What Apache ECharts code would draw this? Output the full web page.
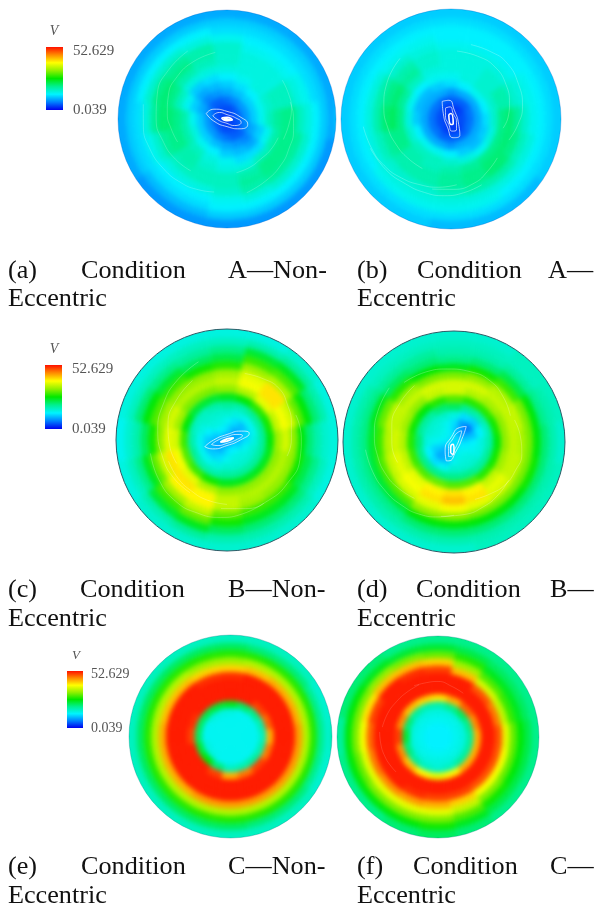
<!DOCTYPE html>
<html><head><meta charset="utf-8">
<script src="https://cdn.jsdelivr.net/npm/echarts@6/dist/echarts.min.js"></script>
<style>html,body{margin:0;background:#fff}#f,#o{position:absolute;left:0;top:0;width:596px;height:908px}</style>
</head><body><div id="f"></div><div id="o"></div>
<script>
// Speed V per disc: rows = rings from centre to rim, columns = 16 sectors counter-clockwise from east
var discA=[[3,3,3,3,3,3,3,3,3,3,3,3,3,3,3,3],[5,5,5,4,4,4,4,4,5,5,5,4,4,4,4,4],[8,8,8,7,6,5,5,7,8,8,8,7,6,5,5,7],[11,11,11,10,9,8,7,9,11,11,11,10,9,8,7,9],[14,14,13,12,11,10,9,11,14,15,14,13,11,10,9,11],[17,16,15,14,13,12,11,14,18,18,17,15,14,12,12,14],[19,17,15,15,15,15,15,17,20,20,18,16,15,15,17,18],[20,17,15,15,16,17,18,20,21,20,18,17,17,18,20,20],[20,17,15,15,16,18,20,21,21,19,17,17,17,19,20,20],[17,15,14,14,16,18,19,20,19,16,15,15,16,18,19,19],[15,14,13,13,14,15,16,16,15,14,13,13,14,15,16,16],[13,12,12,12,12,13,13,13,12,12,12,12,13,13,13,13],[11,11,11,11,11,11,11,11,11,11,10,10,11,11,11,11],[9,9,9,9,9,9,9,9,9,9,8,8,8,8,8,8]];
var discB=[[3,3,3,3,3,3,3,3,3,3,3,3,3,3,3,3],[4,4,3,3,3,3,4,4,4,4,4,3,3,3,3,4],[6,6,5,5,5,5,6,6,6,6,6,5,5,5,5,6],[9,9,9,9,8,9,9,9,9,9,9,9,8,9,9,9],[12,13,14,13,12,11,10,10,11,13,14,14,13,11,10,11],[16,16,16,15,14,14,13,14,15,16,17,17,16,15,14,15],[20,18,16,15,15,15,17,19,20,20,18,17,18,19,20,20],[21,18,16,15,15,16,19,21,22,20,18,18,19,20,21,21],[19,16,15,15,15,16,18,20,21,19,18,18,19,20,21,20],[16,15,14,14,14,15,16,18,18,17,16,16,17,18,18,17],[14,14,13,13,13,14,14,15,15,15,15,15,15,15,15,15],[13,13,13,13,13,13,13,13,13,13,14,14,14,14,13,13],[12,12,12,12,12,12,12,12,12,12,12,12,12,12,12,12],[11,11,11,11,11,11,11,11,11,11,11,11,10,10,10,11]];
var discC=[[9,9,9,9,9,9,9,9,9,9,9,9,9,9,9,9],[10,9,9,10,12,13,13,11,10,9,9,10,12,13,13,11],[12,11,10,12,14,15,15,13,11,10,11,12,14,15,15,14],[15,14,14,15,16,16,16,15,14,14,14,15,16,16,16,16],[19,19,19,18,19,18,17,17,18,19,18,18,19,19,19,19],[26,27,28,26,25,24,24,26,29,30,29,27,25,25,25,25],[34,36,38,35,33,32,32,34,37,39,38,35,33,33,33,33],[37,39,41,39,36,35,35,37,38,41,41,40,36,35,35,35],[33,37,41,38,34,33,33,34,33,37,40,40,36,34,33,33],[26,31,35,34,28,27,29,30,27,31,34,36,31,29,29,27],[21,26,30,29,23,22,24,26,22,25,29,31,27,25,25,23],[18,21,25,24,20,19,20,21,18,20,24,25,22,21,21,20],[16,18,19,18,17,17,17,17,16,17,18,19,18,18,18,17],[15,15,16,15,15,15,15,15,14,15,16,16,16,16,16,15]];
var discD=[[12,12,12,12,12,12,12,12,12,12,12,12,12,12,12,12],[12,10,8,9,11,13,14,14,13,11,9,9,12,14,14,13],[13,10,6,8,12,14,15,15,14,11,9,10,14,15,15,14],[15,13,11,12,15,16,16,16,15,13,12,14,16,16,16,15],[18,17,18,19,22,21,19,19,21,20,20,20,20,20,19,19],[26,27,28,28,30,28,26,27,28,29,30,31,30,30,28,27],[33,33,34,35,37,36,33,34,35,36,38,40,41,40,36,34],[36,36,36,37,37,37,36,36,37,38,39,41,43,41,38,36],[35,36,35,33,32,32,34,36,35,36,37,38,39,38,37,36],[32,32,29,27,25,26,28,31,29,30,30,33,33,32,32,32],[26,26,23,21,20,21,22,25,24,24,24,26,26,26,26,27],[21,20,19,18,18,19,19,20,20,20,20,21,21,21,21,21],[18,18,17,17,17,17,17,18,18,18,18,18,18,18,18,18],[16,17,17,16,16,16,16,16,16,16,16,16,16,17,17,17]];
var discE=[[14,14,14,14,14,14,14,14,14,14,14,14,14,14,14,14],[14,14,14,14,14,14,14,14,14,14,14,14,14,14,14,14],[14,14,14,14,14,14,14,14,14,14,14,14,14,14,14,14],[14,14,14,14,15,15,15,14,14,15,15,14,14,14,14,14],[17,18,20,22,25,24,23,22,22,24,26,21,17,18,19,18],[44,48,50,52,52,52,52,51,50,52,52,50,44,47,50,47],[52,52,52,52,52,52,52,52,52,52,52,52,52,52,52,52],[52,52,52,52,52,52,52,52,52,52,52,52,52,52,52,52],[52,52,52,52,51,51,52,52,52,52,52,52,52,52,52,52],[45,44,44,43,42,42,43,43,44,44,44,45,45,45,45,45],[35,35,35,35,34,34,35,35,35,35,35,35,35,35,35,35],[28,28,28,28,28,28,28,28,28,28,28,28,28,28,28,28],[20,20,21,21,22,22,22,22,22,22,22,22,22,21,21,20],[16,16,17,17,17,17,17,17,17,17,17,17,17,17,17,16]];
var discF=[[13,13,13,13,13,13,13,13,13,13,13,13,13,13,13,13],[13,13,13,13,13,13,13,13,13,13,13,13,13,13,13,13],[14,14,14,14,14,14,14,14,14,14,14,14,14,14,14,14],[15,15,15,15,15,15,15,15,15,15,15,15,15,15,15,15],[19,20,22,20,18,18,19,21,24,21,19,17,16,17,19,19],[44,46,48,44,41,42,43,46,50,46,43,40,38,40,44,44],[52,52,52,52,52,52,52,52,52,52,52,52,52,52,52,52],[52,52,52,52,52,52,52,52,52,52,52,52,52,52,52,52],[49,47,49,52,52,52,52,52,52,52,52,51,50,50,49,49],[38,36,37,43,50,51,52,50,48,47,46,45,44,42,39,39],[31,29,30,34,42,43,43,41,39,38,38,38,38,36,32,31],[26,25,25,28,31,32,33,32,32,31,32,32,32,30,27,26],[23,22,22,23,24,24,25,26,26,26,26,26,27,25,23,23],[20,20,20,20,20,20,21,21,19,20,20,21,22,21,20,20]];
var vMin=0.039,vMax=52.629;
var rampColors=['#0000ee','#0080ff','#00f4ff','#00f090','#00e800','#90f000','#ffff00','#ff8c00','#ff1000'];
var captionRows=[
 [['(a)',8],['Condition',81],['A—Non-',228]],[['Eccentric',8]],
 [['(b)',357],['Condition',417],['A—',548]],[['Eccentric',357]],
 [['(c)',8],['Condition',80],['B—Non-',228]],[['Eccentric',8]],
 [['(d)',357],['Condition',416],['B—',550]],[['Eccentric',357]],
 [['(e)',8],['Condition',81],['C—Non-',228]],[['Eccentric',8]],
 [['(f)',357],['Condition',413],['C—',550]],[['Eccentric',357]]];
var captionBase=[277,305,277,305,596,625,596,625,873,902,873,902];
// Vortex loops (x,y in disc radii) and swirling streak arcs (radius, degrees)
var loopsA=[[[-.19,.05],[-.12,.09],[0,.07],[.12,.02],[.19,-.05],[.12,-.09],[0,-.07],[-.12,-.02]],[[-.13,.03],[-.07,.06],[0,.04],[.08,.01],[.13,-.03],[.07,-.06],[0,-.04],[-.08,-.01]],[[-.05,.01],[0,.015],[.05,-.01],[0,-.015]],[[-.03,.005],[.03,-.005],[0,-.01]]];
var loopsB=[[[-.08,.16],[-.02,.17],[.03,.08],[.07,-.05],[.08,-.15],[.02,-.17],[-.03,-.08],[-.07,.05]],[[-.05,.1],[-.01,.11],[.02,.05],[.05,-.03],[.05,-.1],[.01,-.11],[-.02,-.05],[-.05,.03]],[[-.02,.04],[0,.05],[.02,-.04],[0,-.05]]];
var loopsC=[[[-.2,-.06],[-.12,0],[0,.05],[.13,.08],[.2,.06],[.12,0],[0,-.05],[-.13,-.08]],[[-.14,-.04],[-.08,0],[0,.03],[.09,.05],[.14,.04],[.08,0],[0,-.03],[-.09,-.05]],[[-.06,-.02],[0,.01],[.06,.02],[0,-.01]]];
var loopsD=[[[-.07,-.17],[-.08,-.08],[-.02,.05],[.05,.13],[.11,.14],[.08,.05],[.02,-.08],[-.05,-.17]],[[-.05,-.13],[-.05,-.06],[-.01,.03],[.04,.09],[.07,.1],[.05,.03],[.01,-.06],[-.03,-.13]],[[-.03,-.1],[-.03,-.05],[-.01,-.02],[0,-.06],[-.01,-.11]]];
var arcsA=[[[.72,120],[.7,140],[.68,160],[.65,180],[.62,200],[.6,218],[.58,235]],[[.62,100],[.61,120],[.6,140],[.58,158],[.55,175],[.52,190],[.5,205]],[[.78,170],[.77,185],[.76,200],[.74,218],[.72,235],[.7,248],[.68,260]],[[.55,340],[.57,355],[.6,10],[.61,22],[.62,35]],[[.7,285],[.67,302],[.65,320],[.63,335],[.62,350],[.61,2],[.6,15]],[[.5,280],[.49,295],[.48,310],[.49,325],[.5,340]]];
var arcsB=[[[.72,130],[.67,150],[.62,170],[.58,188],[.55,205],[.53,222],[.52,240]],[[.8,185],[.77,200],[.74,215],[.7,230],[.66,245],[.63,260],[.6,275]],[[.7,75],[.71,60],[.72,45],[.69,27],[.66,10],[.61,355],[.56,340]],[[.78,200],[.75,218],[.72,235],[.71,250],[.7,265],[.68,280],[.66,295]],[[.62,85],[.62,67],[.62,50],[.59,32],[.55,15],[.52,2],[.48,350]],[[.66,255],[.64,272],[.62,290],[.58,305],[.55,320]]];
var arcsC=[[[.75,110],[.7,130],[.66,150],[.63,172],[.6,195],[.59,215],[.58,235]],[[.62,120],[.58,142],[.55,165],[.52,185],[.5,205]],[[.7,190],[.71,210],[.72,230],[.71,248],[.7,265],[.68,282],[.66,300]],[[.62,265],[.64,285],[.66,305],[.67,325],[.68,345],[.67,2],[.66,20]],[[.62,75],[.64,60],[.66,45],[.63,30],[.6,15],[.58,0],[.56,345]],[[.56,200],[.56,218],[.56,235],[.57,252],[.58,270]]];
var arcsD=[[[.76,140],[.74,158],[.72,175],[.7,190],[.68,205],[.65,220],[.62,235]],[[.8,185],[.78,200],[.76,215],[.74,230],[.72,245],[.69,258],[.66,270]],[[.62,125],[.6,145],[.58,165],[.56,182],[.54,200]],[[.7,130],[.68,112],[.66,95],[.65,77],[.64,60],[.6,42],[.56,25]],[[.55,290],[.57,305],[.6,320],[.61,335],[.62,350],[.6,5],[.58,20]],[[.68,260],[.66,278],[.64,295],[.62,310],[.6,325]]];
var arcsF=[[[.55,110],[.54,125],[.54,140],[.55,155],[.56,170]],[[.58,175],[.57,188],[.56,200],[.55,210],[.54,220]],[[.5,60],[.52,75],[.55,90],[.55,102],[.56,115]]];

var discs=[
 {t:discA,cx:227,cy:119,r:109,loops:loopsA,arcs:arcsA,edge:'rgba(0,90,200,.3)',a:.2},
 {t:discB,cx:451,cy:119,r:110,loops:loopsB,arcs:arcsB,edge:'rgba(0,90,200,.3)',a:.24},
 {t:discC,cx:227,cy:440,r:111,loops:loopsC,arcs:arcsC,edge:'#2c5a66',a:.24},
 {t:discD,cx:454,cy:442,r:111,loops:loopsD,arcs:arcsD,edge:'#2c5a66',a:.24},
 {t:discE,cx:230.5,cy:736.5,r:101.5,loops:[],arcs:[],edge:'rgba(0,120,130,.3)',a:0},
 {t:discF,cx:438,cy:737,r:101,loops:[],arcs:arcsF,edge:'rgba(0,120,130,.3)',a:.14}];
var legends=[{x:46,y:47,w:17,h:63,vx:54,vy:31,lx:73,ly1:51,ly2:110,fs:15},{x:45,y:365,w:17,h:64,vx:54,vy:349,lx:72,ly1:369,ly2:429,fs:15},{x:67,y:671,w:16,h:57,vx:76,vy:656,lx:91,ly1:674,ly2:728,fs:14}];

var NS=16,NR=14,SUB=5;
function grids(){return discs.map(function(d){return{left:d.cx-d.r,top:d.cy-d.r,width:2*d.r,height:2*d.r,show:false};});}
function axes(){return discs.map(function(d,i){return{type:'value',gridIndex:i,min:-1,max:1,show:false};});}
function renderCell(p,api){
 var s=api.value(0),k=api.value(1);
 var r0=k/NR,r1=(k==NR-1)?1.05:(k+1)/NR,a0=(s-.5)/NS*2*Math.PI,a1=(s+.5)/NS*2*Math.PI,pts=[],j,a;
 for(j=0;j<=SUB;j++){a=a0+(a1-a0)*j/SUB;pts.push(api.coord([r1*Math.cos(a),r1*Math.sin(a)]));}
 for(j=SUB;j>=0;j--){a=a0+(a1-a0)*j/SUB;pts.push(api.coord([r0*Math.cos(a),r0*Math.sin(a)]));}
 var c=api.visual('color');
 return{type:'polygon',shape:{points:pts},style:{fill:c,stroke:c,lineWidth:1}};
}
var fieldSeries=discs.map(function(d,i){
 var data=[];d.t.forEach(function(row,k){row.forEach(function(v,s){data.push([s,k,v]);});});
 return{type:'custom',xAxisIndex:i,yAxisIndex:i,renderItem:renderCell,data:data,encode:{x:0,y:1},silent:true,animation:false};
});
var fEl=document.getElementById('f');
fEl.style.filter='blur(2.6px)';
fEl.style.clipPath="path('"+discs.map(function(d){return'M'+(d.cx-d.r)+' '+d.cy+'a'+d.r+' '+d.r+' 0 1 0 '+(2*d.r)+' 0a'+d.r+' '+d.r+' 0 1 0 '+(-2*d.r)+' 0Z';}).join('')+"')";
var fc=echarts.init(fEl,null,{renderer:'canvas'});
fc.setOption({animation:false,grid:grids(),xAxis:axes(),yAxis:axes(),
 visualMap:{show:false,type:'continuous',min:vMin,max:vMax,dimension:2,seriesIndex:discs.map(function(d,i){return i;}),inRange:{color:rampColors}},
 series:fieldSeries});

var overlay=[];
discs.forEach(function(d,i){
 overlay.push({type:'custom',xAxisIndex:i,yAxisIndex:i,silent:true,data:[[0,0]],encode:{x:0,y:1},
  renderItem:function(p,api){var c=api.coord([0,0]),s=api.size([1,1]);
   return{type:'circle',shape:{cx:c[0],cy:c[1],r:s[0]},style:{fill:'none',stroke:d.edge,lineWidth:1}};}});
 d.arcs.forEach(function(arc){
  overlay.push({type:'line',xAxisIndex:i,yAxisIndex:i,silent:true,showSymbol:false,smooth:true,
   data:arc.map(function(q){var a=q[1]*Math.PI/180;return[q[0]*Math.cos(a),q[0]*Math.sin(a)];}),
   lineStyle:{color:'rgba(255,255,255,'+d.a+')',width:1}});
 });
 d.loops.forEach(function(l,n){
  overlay.push({type:'line',xAxisIndex:i,yAxisIndex:i,silent:true,showSymbol:false,smooth:.6,
   data:l.concat([l[0]]),lineStyle:{color:n>=2?'#fff':'rgba(255,255,255,.7)',width:n>=2?1.6:1}});
 });
});
var g=[];
legends.forEach(function(b){
 g.push({type:'rect',shape:{x:b.x,y:b.y,width:b.w,height:b.h},style:{fill:new echarts.graphic.LinearGradient(0,1,0,0,rampColors.map(function(c,i){return{offset:i/(rampColors.length-1),color:c};}))}});
 g.push({type:'text',x:b.vx,y:b.vy,style:{text:'V',font:'italic '+(b.fs-1)+'px "Liberation Serif"',fill:'#555',align:'center',verticalAlign:'middle'}});
 g.push({type:'text',x:b.lx,y:b.ly1,style:{text:'52.629',font:b.fs+'px "Liberation Serif"',fill:'#555',align:'left',verticalAlign:'middle'}});
 g.push({type:'text',x:b.lx,y:b.ly2,style:{text:'0.039',font:b.fs+'px "Liberation Serif"',fill:'#555',align:'left',verticalAlign:'middle'}});
});
captionRows.forEach(function(row,n){row.forEach(function(w){
 g.push({type:'text',x:w[1],y:captionBase[n]+7,style:{text:w[0],font:'26.2px "Liberation Serif"',fill:'#111',align:'left',verticalAlign:'bottom'}});
});});
var oc=echarts.init(document.getElementById('o'),null,{renderer:'canvas'});
oc.setOption({animation:false,backgroundColor:'transparent',grid:grids(),xAxis:axes(),yAxis:axes(),series:overlay,graphic:{elements:g}});
</script></body></html>
